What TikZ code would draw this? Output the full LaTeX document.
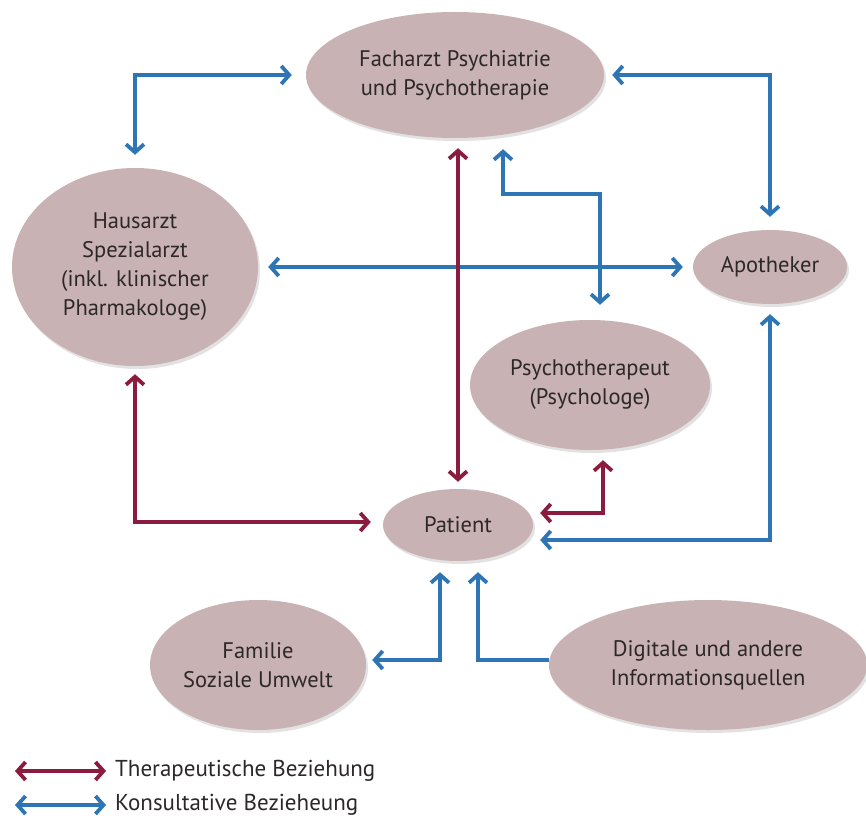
\documentclass[tikz,border=0pt]{standalone}
\usepackage{fontspec}
\setmainfont{PT Sans}
\usetikzlibrary{arrows.meta,shapes.geometric,shadows,calc}
\definecolor{ellfill}{RGB}{201,178,180}
\definecolor{txt}{RGB}{45,40,40}
\definecolor{cblue}{RGB}{46,117,182}
\definecolor{cred}{RGB}{140,27,64}
\begin{document}
\begin{tikzpicture}[x=1pt,y=-1pt,
  >={Straight Barb[length=8pt,width=18pt]},
  ell/.style={ellipse, fill=ellfill, draw=none, inner sep=0pt, align=center, text=txt,
    font=\fontsize{22.5}{29}\selectfont,
    drop shadow={shadow xshift=2pt,shadow yshift=-3pt,opacity=0.25,fill=black!45}},
  bl/.style={draw=cblue, line width=3.8pt},
  rd/.style={draw=cred, line width=3.8pt},
  legtext/.style={anchor=west, inner sep=0pt, text=txt, font=\fontsize{23}{26}\selectfont}]
\useasboundingbox (0,0) rectangle (866,821);
\fill[white] (0,0) rectangle (866,821);

\node[ell, minimum width=298pt, minimum height=126pt] (fach) at (455,75) {Facharzt Psychiatrie\\und Psychotherapie};
\node[ell, minimum width=246pt, minimum height=198pt] (haus) at (135,267) {Hausarzt\\Spezialarzt\\(inkl. klinischer\\Pharmakologe)};
\node[ell, minimum width=154pt, minimum height=74pt] (apo) at (770,267) {Apotheker};
\node[ell, minimum width=240pt, minimum height=130pt] (psy) at (590,385) {Psychotherapeut\\(Psychologe)};
\node[ell, minimum width=150pt, minimum height=72pt] (pat) at (458,525) {Patient};
\node[ell, minimum width=216pt, minimum height=130pt] (fam) at (258,665) {Familie\\Soziale Umwelt};
\node[ell, minimum width=318pt, minimum height=130pt] (dig) at (708,665) {Digitale und andere\\Informationsquellen};

% consultative (blue)
\draw[bl,<->,shorten <=13pt,shorten >=14pt] (haus.north) |- (fach.west);
\draw[bl,<->,shorten <=8pt,shorten >=13pt] (fach.east) -| (apo.north);
\draw[bl,<->,shorten <=10pt,shorten >=10pt] (haus.east) -- (apo.west);
\draw[bl,<->] ($(fach.south)+(48,11)$) -- ++(0,45) -| ($(psy.north)+(10,-15)$);
\draw[bl,<->] ($(apo.south)+(0,10)$) |- ($(pat.east)+(7,15)$);
\draw[bl,<->] ($(pat.south)+(-18,11)$) |- ($(fam.east)+(6,-5)$);
\draw[bl,->] ($(dig.west)+(0,-5)$) -| ($(pat.south)+(20,11)$);

% therapeutic (red)
\draw[rd,<->,shorten <=10pt,shorten >=7pt] (fach.south -| pat.north) -- (pat.north);
\draw[rd,<->] ($(haus.south)+(0,8)$) |- ($(pat.west)+(-12,-3)$);
\draw[rd,<->] ($(psy.south)+(13,10)$) |- ($(pat.east)+(7,-12)$);

% legend
\node[legtext] (lt1) at (115,771) {Therapeutische Beziehung};
\node[legtext] (lt2) at (115,805) {Konsultative Bezieheung};
\coordinate (ls1) at (15,771);
\coordinate (ls2) at (15,805);
\draw[rd,<->,shorten >=9pt] (ls1) -- (lt1.west);
\draw[bl,<->,shorten >=9pt] (ls2) -- (lt2.west);
\end{tikzpicture}
\end{document}
